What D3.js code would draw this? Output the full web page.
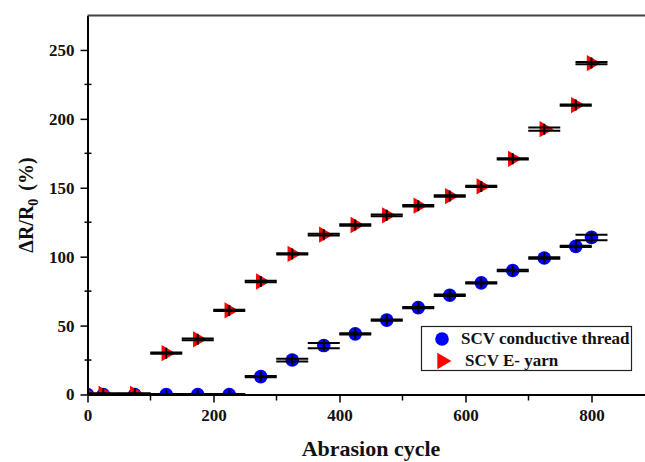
<!DOCTYPE html>
<html>
<head>
<meta charset="utf-8">
<script src="https://cdn.jsdelivr.net/npm/d3@7"></script>
<style>
  body { margin: 0; background: #fff; }
  svg { display: block; }
  text { font-family: "Liberation Serif", "Times New Roman", serif; font-weight: bold; fill: #111; }
</style>
</head>
<body>
<svg id="abrasion"></svg>
<script>
// abrasion cycles where resistance was measured
var cycles = [0, 25, 75, 125, 175, 225, 275, 325, 375, 425, 475, 525, 575, 625, 675, 725, 775, 800];
// SCV conductive thread (blue circles)
var threadValues = [0, 0, 0, 0, 0, 0, 13, 25, 35.5, 44, 54, 63, 72, 81, 90, 99, 107.5, 114];
var threadErrors = [0.4, 0.4, 0.4, 0.4, 0.4, 0.4, 0.5, 1, 1.9, 0.5, 0.5, 0.5, 0.5, 0.5, 0.5, 0.5, 0.5, 2];
// SCV E- yarn (red triangles)
var yarnValues = [0, 0.5, 0.5, 30, 40, 61, 82, 102, 116, 123, 130, 137, 144, 151, 171, 192.5, 210, 240.5];
var yarnErrors = [0.4, 0.4, 0.4, 0.5, 0.6, 0.5, 0.5, 0.5, 0.6, 0.5, 0.6, 0.5, 0.5, 0.5, 0.5, 1.2, 0.5, 0.8];

var xMajorTicks = [0, 200, 400, 600, 800];
var xMinorTicks = [100, 300, 500, 700];
var yMajorTicks = [0, 50, 100, 150, 200, 250];
var yMinorTicks = [25, 75, 125, 175, 225];

var seriesNames = ["SCV conductive thread", "SCV E- yarn"];

var drawAxes = function(svg, graph, xScale, yScale)
{
    var xAxis = d3.axisBottom(xScale)
        .tickValues(xMajorTicks)
        .tickSize(8)
        .tickPadding(6)
        .tickSizeOuter(0);
    var xg = svg.append("g")
        .attr("transform", "translate(0," + graph.bottom + ")")
        .call(xAxis);
    xg.selectAll(".tick text").style("font-size", "17px");

    var xMinor = svg.append("g");
    xMinor.selectAll("line")
        .data(xMinorTicks)
        .enter()
        .append("line")
        .attr("x1", function(d) { return xScale(d); })
        .attr("x2", function(d) { return xScale(d); })
        .attr("y1", graph.bottom)
        .attr("y2", graph.bottom + 6)
        .attr("stroke", "#000")
        .attr("stroke-width", 1.5);

    var yAxis = d3.axisLeft(yScale)
        .tickValues(yMajorTicks)
        .tickSize(7)
        .tickPadding(6)
        .tickSizeOuter(0);
    var yg = svg.append("g")
        .attr("transform", "translate(" + graph.left + ",0)")
        .call(yAxis);
    yg.selectAll(".tick text").style("font-size", "17px");

    svg.append("g").selectAll("line")
        .data(yMinorTicks)
        .enter()
        .append("line")
        .attr("x1", graph.left - 3)
        .attr("x2", graph.left + 4)
        .attr("y1", function(d) { return yScale(d); })
        .attr("y2", function(d) { return yScale(d); })
        .attr("stroke", "#000")
        .attr("stroke-width", 1.5);

    svg.selectAll(".domain").attr("stroke", "#000").attr("stroke-width", 2);
    svg.selectAll(".tick line").attr("stroke", "#000").attr("stroke-width", 1.5);

    // top frame line
    svg.append("line")
        .attr("x1", graph.left)
        .attr("x2", graph.right)
        .attr("y1", graph.top)
        .attr("y2", graph.top)
        .attr("stroke", "#444")
        .attr("stroke-width", 2);
}

var drawLabels = function(svg, graph)
{
    svg.append("text")
        .text("Abrasion cycle")
        .attr("text-anchor", "middle")
        .attr("x", (graph.left + graph.right) / 2)
        .attr("y", 456)
        .style("font-size", "22px");

    var ylab = svg.append("text")
        .attr("text-anchor", "middle")
        .attr("transform", "translate(33," + ((graph.top + graph.bottom) / 2) + ") rotate(-90)")
        .style("font-size", "20px");
    ylab.append("tspan").text("\u0394R/R");
    ylab.append("tspan").text("0").attr("dy", 5).style("font-size", "14px");
    ylab.append("tspan").text("(%)").attr("dy", -5).attr("dx", 8);
}

var drawSeries = function(plot, xScale, yScale, values, errors, cls)
{
    var pts = cycles.map(function(c, i) { return {x: c, y: values[i], e: errors[i]}; });
    var g = plot.append("g");

    if (cls == "thread") {
        g.selectAll("circle")
            .data(pts)
            .enter()
            .append("circle")
            .attr("cx", function(d) { return xScale(d.x); })
            .attr("cy", function(d) { return yScale(d.y); })
            .attr("r", 6.8)
            .attr("fill", "#0000ff");
    } else {
        g.selectAll("path")
            .data(pts)
            .enter()
            .append("path")
            .attr("d", d3.symbol().type(d3.symbolTriangle).size(115))
            .attr("transform", function(d) {
                return "translate(" + xScale(d.x) + "," + yScale(d.y) + ") rotate(90)";
            })
            .attr("fill", "#ff0000");
    }

    // error bar caps: horizontal caps for y error, short vertical for x
    var bars = g.selectAll(".err")
        .data(pts)
        .enter()
        .append("g")
        .attr("stroke", "#000")
        .attr("stroke-width", 2);
    bars.append("line")
        .attr("x1", function(d) { return xScale(d.x) - 16; })
        .attr("x2", function(d) { return xScale(d.x) + 16; })
        .attr("y1", function(d) { return yScale(d.y + d.e); })
        .attr("y2", function(d) { return yScale(d.y + d.e); });
    bars.append("line")
        .attr("x1", function(d) { return xScale(d.x) - 16; })
        .attr("x2", function(d) { return xScale(d.x) + 16; })
        .attr("y1", function(d) { return yScale(d.y - d.e); })
        .attr("y2", function(d) { return yScale(d.y - d.e); });
    bars.append("line")
        .attr("x1", function(d) { return xScale(d.x); })
        .attr("x2", function(d) { return xScale(d.x); })
        .attr("y1", function(d) { return yScale(d.y) - 5.5; })
        .attr("y2", function(d) { return yScale(d.y) + 5.5; });
}

var drawLegend = function(svg)
{
    var legend = svg.append("g");
    legend.append("rect")
        .attr("x", 421.5)
        .attr("y", 326.5)
        .attr("width", 210)
        .attr("height", 44)
        .attr("fill", "#fff")
        .attr("stroke", "#222")
        .attr("stroke-width", 1.2);

    legend.append("circle")
        .attr("cx", 442)
        .attr("cy", 339)
        .attr("r", 6.8)
        .attr("fill", "#0000ff");
    legend.append("path")
        .attr("d", d3.symbol().type(d3.symbolTriangle).size(115))
        .attr("transform", "translate(442,361) rotate(90)")
        .attr("fill", "#ff0000");

    legend.append("text").text(seriesNames[0])
        .attr("x", 461).attr("y", 344).style("font-size", "17px");
    legend.append("text").text(seriesNames[1])
        .attr("x", 465).attr("y", 366).style("font-size", "17px");
}

var initGraph = function()
{
    var screen = {width: 645, height: 462};
    var graph = {left: 87.5, right: 654.5, top: 15.5, bottom: 394.5};

    var svg = d3.select("#abrasion")
        .attr("width", screen.width)
        .attr("height", screen.height);

    var xScale = d3.scaleLinear()
        .domain([0, 900])
        .range([graph.left, graph.right]);
    var yScale = d3.scaleLinear()
        .domain([0, 275])
        .range([graph.bottom, graph.top]);

    svg.append("clipPath")
        .attr("id", "plotclip")
        .append("rect")
        .attr("x", graph.left)
        .attr("y", graph.top)
        .attr("width", graph.right - graph.left)
        .attr("height", graph.bottom - graph.top);

    var plot = svg.append("g").attr("clip-path", "url(#plotclip)");
    drawSeries(plot, xScale, yScale, threadValues, threadErrors, "thread");
    drawSeries(plot, xScale, yScale, yarnValues, yarnErrors, "yarn");

    drawAxes(svg, graph, xScale, yScale);
    drawLabels(svg, graph);
    drawLegend(svg);
}

initGraph();
</script>
</body>
</html>
